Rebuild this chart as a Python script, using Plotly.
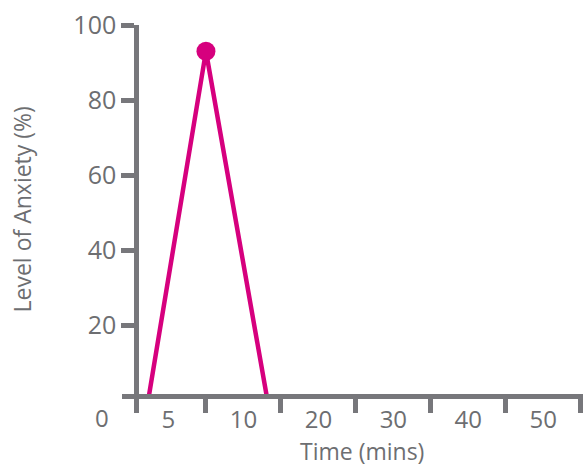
import plotly.graph_objects as go

# Data (x in band units: each time band is 1 unit wide)
x_pos = [0.23, 1.0, 1.82]
anxiety = [0, 93, 0]
peak_x = [1.0]
peak_y = [93]

band_centers = [0.5, 1.5, 2.5, 3.5, 4.5, 5.5]
band_labels = ["5", "10", "20", "30", "40", "50"]
band_edges = [0.07, 1, 2, 3, 4, 5, 6]
y_ticks = [20, 40, 60, 80, 100]

GRAY = "#77777b"
TXT = "#6d6e71"
MAG = "#d6007e"
FONT = "Open Sans"
FS = 25

fig = go.Figure()
fig.add_trace(go.Scatter(x=x_pos, y=anxiety, mode="lines",
                         line=dict(color=MAG, width=4.5), cliponaxis=True,
                         showlegend=False, hoverinfo="skip"))
fig.add_trace(go.Scatter(x=peak_x, y=peak_y, mode="markers",
                         marker=dict(color=MAG, size=19), cliponaxis=False,
                         showlegend=False))

fig.update_layout(
    width=584, height=466,
    margin=dict(l=122, r=1, t=25, b=72, autoexpand=False),
    paper_bgcolor="white", plot_bgcolor="white",
    font=dict(family=FONT, color=TXT, size=FS),
    xaxis=dict(range=[-0.12, 6.03], showgrid=False, zeroline=False, automargin=False,
               showline=True, linecolor=GRAY, linewidth=4.5,
               tickmode="array", tickvals=band_centers, ticktext=band_labels,
               ticks="", tickfont=dict(size=24, color=TXT, family=FONT),
               minor=dict(tickmode="array", tickvals=band_edges, ticks="outside",
                          ticklen=14, tickwidth=4.5, tickcolor=GRAY, showgrid=False)),
    yaxis=dict(range=[1.6, 100], showgrid=False, zeroline=False, automargin=False,
               showline=True, linecolor=GRAY, linewidth=4.5,
               anchor="free", position=14/461,
               tickmode="array", tickvals=y_ticks, ticks="outside",
               ticklen=13, tickwidth=4.5, tickcolor=GRAY,
               tickfont=dict(size=FS, color=TXT, family=FONT)),
    annotations=[
        dict(x=-0.0434, y=-0.065, xref="paper", yref="paper", text="0", showarrow=False,
             xanchor="center", yanchor="middle",
             font=dict(size=24, color=TXT, family=FONT)),
        dict(x=0.5206, y=-0.155, xref="paper", yref="paper", text="Time (mins)",
             showarrow=False, xanchor="center", yanchor="middle",
             font=dict(size=23, color=TXT, family=FONT)),
        dict(x=-0.217, y=0.5, xref="paper", yref="paper", text="Level of Anxiety (%)",
             showarrow=False, textangle=-90, xanchor="center", yanchor="middle",
             font=dict(size=23, color=TXT, family=FONT)),
    ],
)

fig.write_html("out.html", config={"displayModeBar": False},
               post_script="document.body.style.margin='0';")
